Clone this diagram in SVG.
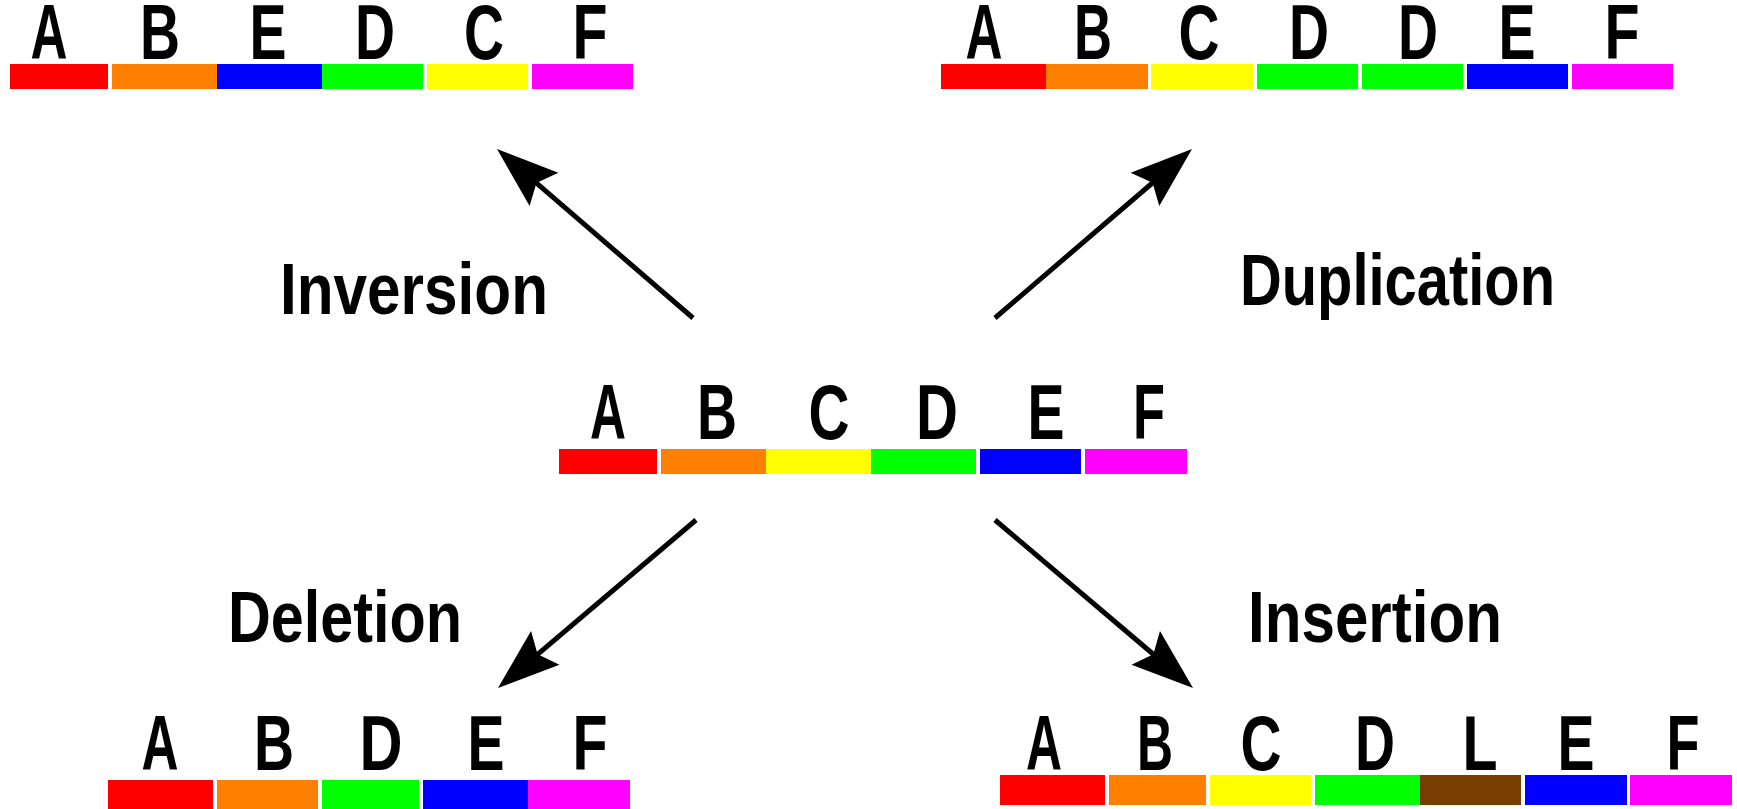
<svg xmlns="http://www.w3.org/2000/svg" width="1737" height="809" viewBox="0 0 1737 809">
<defs>
<style>
.r{fill:#ff0000}.o{fill:#ff8000}.y{fill:#ffff00}.g{fill:#00ff00}.b{fill:#0000ff}.m{fill:#ff00ff}.n{fill:#7a3d00}
.L{font-family:"Liberation Sans",Arial,sans-serif;font-weight:bold;font-size:77px;fill:#000;text-anchor:middle}
.lab{font-family:"Liberation Sans",Arial,sans-serif;font-weight:bold;font-size:72px;fill:#000}
.ar{stroke:#000;stroke-width:5;fill:none;marker-end:url(#head)}
</style>
<marker id="head" markerUnits="userSpaceOnUse" viewBox="-60 -30 80 60" refX="0" refY="0" markerWidth="80" markerHeight="60" orient="auto">
<path d="M10,0 L-52,-22 L-42,0 L-52,22 Z" fill="#000"/>
</marker>
</defs>
<rect width="1737" height="809" fill="#fff"/>

<g id="inversion">
<rect class="r" x="10" y="64" width="98" height="25"/>
<rect class="o" x="112" y="64" width="105" height="25"/>
<rect class="b" x="217" y="64" width="105" height="25"/>
<rect class="g" x="322" y="64" width="101" height="25"/>
<rect class="y" x="427" y="64" width="101" height="25"/>
<rect class="m" x="532" y="64" width="101" height="25"/>
<text class="L" x="49" y="59" textLength="37" lengthAdjust="spacingAndGlyphs">A</text>
<text class="L" x="160" y="59" textLength="40" lengthAdjust="spacingAndGlyphs">B</text>
<text class="L" x="268" y="59" textLength="37" lengthAdjust="spacingAndGlyphs">E</text>
<text class="L" x="375" y="59" textLength="40" lengthAdjust="spacingAndGlyphs">D</text>
<text class="L" x="484" y="59" textLength="40" lengthAdjust="spacingAndGlyphs">C</text>
<text class="L" x="590" y="59" textLength="35" lengthAdjust="spacingAndGlyphs">F</text>
</g>

<g id="duplication">
<rect class="r" x="941" y="64" width="105" height="25"/>
<rect class="o" x="1046" y="64" width="102" height="25"/>
<rect class="y" x="1151" y="64" width="102" height="25"/>
<rect class="g" x="1257" y="64" width="101" height="25"/>
<rect class="g" x="1362" y="64" width="101" height="25"/>
<rect class="b" x="1467" y="64" width="101" height="25"/>
<rect class="m" x="1572" y="64" width="101" height="25"/>
<text class="L" x="984" y="59" textLength="37" lengthAdjust="spacingAndGlyphs">A</text>
<text class="L" x="1093" y="59" textLength="38" lengthAdjust="spacingAndGlyphs">B</text>
<text class="L" x="1199" y="59" textLength="41" lengthAdjust="spacingAndGlyphs">C</text>
<text class="L" x="1309" y="59" textLength="40" lengthAdjust="spacingAndGlyphs">D</text>
<text class="L" x="1418" y="59" textLength="40" lengthAdjust="spacingAndGlyphs">D</text>
<text class="L" x="1517" y="59" textLength="37" lengthAdjust="spacingAndGlyphs">E</text>
<text class="L" x="1622" y="59" textLength="35" lengthAdjust="spacingAndGlyphs">F</text>
</g>

<g id="original">
<rect class="r" x="559" y="449" width="98" height="25"/>
<rect class="o" x="661" y="449" width="105" height="25"/>
<rect class="y" x="766" y="449" width="105" height="25"/>
<rect class="g" x="871" y="449" width="105" height="25"/>
<rect class="b" x="980" y="449" width="101" height="25"/>
<rect class="m" x="1085" y="449" width="102" height="25"/>
<text class="L" x="608" y="439" textLength="36" lengthAdjust="spacingAndGlyphs">A</text>
<text class="L" x="717" y="439" textLength="40" lengthAdjust="spacingAndGlyphs">B</text>
<text class="L" x="829" y="439" textLength="41" lengthAdjust="spacingAndGlyphs">C</text>
<text class="L" x="937" y="439" textLength="42" lengthAdjust="spacingAndGlyphs">D</text>
<text class="L" x="1046" y="439" textLength="37" lengthAdjust="spacingAndGlyphs">E</text>
<text class="L" x="1149" y="439" textLength="32" lengthAdjust="spacingAndGlyphs">F</text>
</g>

<g id="deletion">
<rect class="r" x="108" y="780" width="105" height="29"/>
<rect class="o" x="217" y="780" width="101" height="29"/>
<rect class="g" x="322" y="780" width="97" height="29"/>
<rect class="b" x="423" y="780" width="105" height="29"/>
<rect class="m" x="528" y="780" width="102" height="29"/>
<text class="L" x="160" y="770" textLength="37" lengthAdjust="spacingAndGlyphs">A</text>
<text class="L" x="274" y="770" textLength="40" lengthAdjust="spacingAndGlyphs">B</text>
<text class="L" x="381" y="770" textLength="43" lengthAdjust="spacingAndGlyphs">D</text>
<text class="L" x="486" y="770" textLength="37" lengthAdjust="spacingAndGlyphs">E</text>
<text class="L" x="590" y="770" textLength="35" lengthAdjust="spacingAndGlyphs">F</text>
</g>

<g id="insertion">
<rect class="r" x="1000" y="775" width="105" height="30"/>
<rect class="o" x="1109" y="775" width="97" height="30"/>
<rect class="y" x="1210" y="775" width="101" height="30"/>
<rect class="g" x="1315" y="775" width="105" height="30"/>
<rect class="n" x="1420" y="775" width="101" height="30"/>
<rect class="b" x="1525" y="775" width="102" height="30"/>
<rect class="m" x="1630" y="775" width="102" height="30"/>
<text class="L" x="1044" y="770" textLength="36" lengthAdjust="spacingAndGlyphs">A</text>
<text class="L" x="1155" y="770" textLength="36" lengthAdjust="spacingAndGlyphs">B</text>
<text class="L" x="1261" y="770" textLength="41" lengthAdjust="spacingAndGlyphs">C</text>
<text class="L" x="1375" y="770" textLength="40" lengthAdjust="spacingAndGlyphs">D</text>
<text class="L" x="1480" y="770" textLength="35" lengthAdjust="spacingAndGlyphs">L</text>
<text class="L" x="1576" y="770" textLength="37" lengthAdjust="spacingAndGlyphs">E</text>
<text class="L" x="1683" y="770" textLength="33" lengthAdjust="spacingAndGlyphs">F</text>
</g>

<g id="connectors">
<line class="ar" x1="693" y1="318" x2="504.6" y2="155.5"/>
<line class="ar" x1="995" y1="318" x2="1184.4" y2="155.5"/>
<line class="ar" x1="696" y1="520" x2="505.6" y2="681.5"/>
<line class="ar" x1="995" y1="520" x2="1185.4" y2="681.5"/>
<text class="lab" x="280" y="314" textLength="268" lengthAdjust="spacingAndGlyphs">Inversion</text>
<text class="lab" x="1240" y="305" textLength="315" lengthAdjust="spacingAndGlyphs">Duplication</text>
<text class="lab" x="228" y="642" textLength="234" lengthAdjust="spacingAndGlyphs">Deletion</text>
<text class="lab" x="1248" y="642" textLength="254" lengthAdjust="spacingAndGlyphs">Insertion</text>
</g>
</svg>
